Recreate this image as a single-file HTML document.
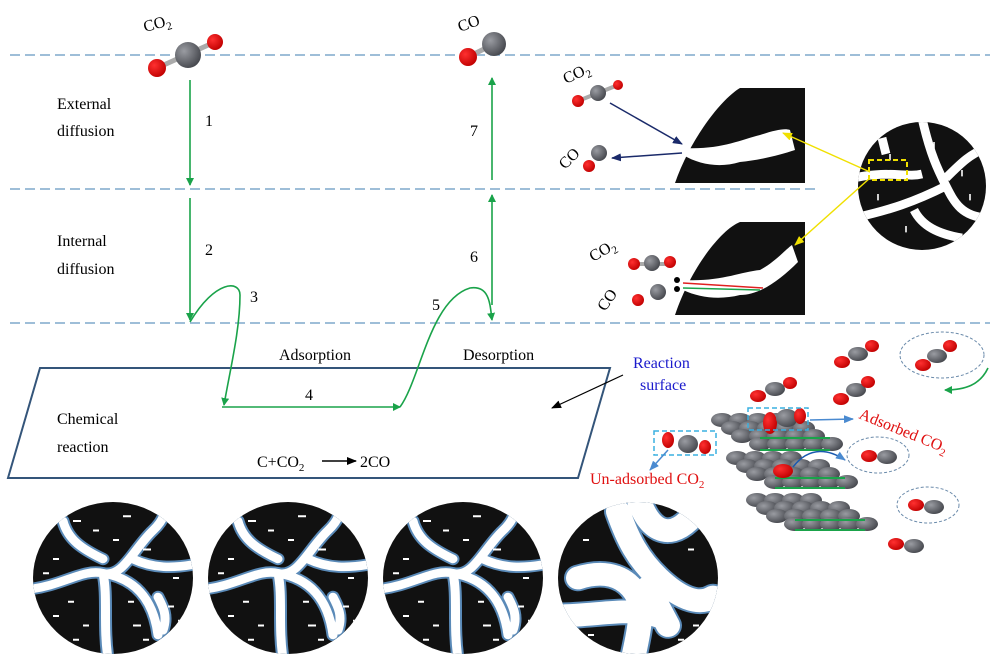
<!DOCTYPE html>
<html><head><meta charset="utf-8"><style>
html,body{margin:0;padding:0;background:#fff;}
svg{display:block;font-family:"Liberation Serif",serif;}
</style></head><body>
<svg width="1000" height="659" viewBox="0 0 1000 659" xmlns="http://www.w3.org/2000/svg">
<defs>
<clipPath id="cc"><circle r="80"/></clipPath>
<marker id="ag" markerWidth="8" markerHeight="8" refX="7" refY="4" orient="auto" markerUnits="userSpaceOnUse"><path d="M0,0 L8,4 L0,8 Z" fill="#1aa34a"/></marker>
<marker id="ab" markerWidth="10" markerHeight="8" refX="9" refY="4" orient="auto" markerUnits="userSpaceOnUse"><path d="M0,0 L10,4 L0,8 Z" fill="#000"/></marker>
<marker id="an" markerWidth="10" markerHeight="8" refX="9" refY="4" orient="auto" markerUnits="userSpaceOnUse"><path d="M0,0 L10,4 L0,8 Z" fill="#1a2a6a"/></marker>
<marker id="ay" markerWidth="10" markerHeight="8" refX="9" refY="4" orient="auto" markerUnits="userSpaceOnUse"><path d="M0,0 L10,4 L0,8 Z" fill="#f0e000"/></marker>
<marker id="al" markerWidth="10" markerHeight="8" refX="9" refY="4" orient="auto" markerUnits="userSpaceOnUse"><path d="M0,0 L10,4 L0,8 Z" fill="#4a8ad0"/></marker>
<radialGradient id="gg" cx="0.35" cy="0.35" r="0.7"><stop offset="0" stop-color="#9a9ca2"/><stop offset="1" stop-color="#45474d"/></radialGradient>
<radialGradient id="rg" cx="0.35" cy="0.35" r="0.7"><stop offset="0" stop-color="#ff3030"/><stop offset="1" stop-color="#c00000"/></radialGradient>
<g id="cr">
<circle r="80" fill="#111"/>
<g clip-path="url(#cc)">
<path id="crk" d="M-85,12 C-50,8 -30,-10 -10,-5 C10,0 20,-30 40,-50 C50,-60 55,-70 50,-85 M-10,-5 C-5,20 -10,50 -5,85 M-10,-5 C20,0 40,20 45,60 M-50,-60 C-45,-40 -30,-30 -10,-20 M20,-20 C40,-10 60,-10 85,-15 M45,20 C50,30 55,40 50,55" stroke="#5a8ab8" stroke-width="13" fill="none" stroke-linecap="round"/>
<path d="M-85,12 C-50,8 -30,-10 -10,-5 C10,0 20,-30 40,-50 C50,-60 55,-70 50,-85 M-10,-5 C-5,20 -10,50 -5,85 M-10,-5 C20,0 40,20 45,60 M-50,-60 C-45,-40 -30,-30 -10,-20 M20,-20 C40,-10 60,-10 85,-15 M45,20 C50,30 55,40 50,55" stroke="#fff" stroke-width="9" fill="none" stroke-linecap="round"/>
<g stroke="#fff" stroke-width="2"><path d="M-40,-60h8M10,-65h8M-60,40h6M30,-30h8M55,30h6M-30,50h6M20,50h8M-60,-20h6M60,0h6M0,-40h6M-20,-50h6M-45,25h6M30,65h6M-40,65h6M65,45h6M-70,-5h6M15,25h6"/></g>
</g>
</g>
</defs>

<g stroke="#7fa8cc" stroke-width="1.5" stroke-dasharray="10,5">
<line x1="10" y1="55" x2="990" y2="55"/>
<line x1="10" y1="189" x2="820" y2="189"/>
<line x1="10" y1="323" x2="990" y2="323"/>
</g>

<g font-size="16" fill="#000">
<text x="57" y="109">External</text><text x="57" y="136">diffusion</text>
<text x="57" y="246">Internal</text><text x="57" y="274">diffusion</text>
<text x="57" y="424">Chemical</text><text x="57" y="452">reaction</text>
<text x="279" y="360">Adsorption</text><text x="463" y="360">Desorption</text>
<text x="205" y="126">1</text><text x="205" y="255">2</text><text x="250" y="302">3</text>
<text x="305" y="400">4</text><text x="432" y="310">5</text><text x="470" y="262">6</text><text x="470" y="136">7</text>
<text x="257" y="467">C+CO<tspan font-size="11" dy="4">2</tspan></text>
<text x="360" y="467">2CO</text>
</g>
<line x1="322" y1="461" x2="356" y2="461" stroke="#000" stroke-width="1.5" marker-end="url(#ab)"/>

<polygon points="40,368 610,368 578,478 8,478" fill="none" stroke="#34557a" stroke-width="2"/>

<g stroke="#1aa34a" stroke-width="1.6" fill="none">
<line x1="190" y1="80" x2="190" y2="185" marker-end="url(#ag)"/>
<line x1="190" y1="198" x2="190" y2="320" marker-end="url(#ag)"/>
<path d="M190,322 C215,280 240,280 240,295 C240,330 230,370 224,405" marker-end="url(#ag)"/>
<line x1="222" y1="407" x2="400" y2="407" marker-end="url(#ag)"/>
<path d="M400,407 C420,380 430,300 470,288 C490,285 490,305 492,320" marker-end="url(#ag)"/>
<line x1="492" y1="305" x2="492" y2="195" marker-end="url(#ag)"/>
<line x1="492" y1="180" x2="492" y2="78" marker-end="url(#ag)"/>
</g>

<text x="145" y="32" font-size="16" transform="rotate(-15 145 32)">CO<tspan font-size="11" dy="4">2</tspan></text>
<line x1="157" y1="68" x2="215" y2="42" stroke="#aaa" stroke-width="5"/>
<circle cx="157" cy="68" r="9" fill="url(#rg)"/><circle cx="215" cy="42" r="8" fill="url(#rg)"/><circle cx="188" cy="55" r="13" fill="url(#gg)"/>
<text x="460" y="32" font-size="16" transform="rotate(-20 460 32)">CO</text>
<line x1="468" y1="57" x2="492" y2="45" stroke="#aaa" stroke-width="5"/>
<circle cx="468" cy="57" r="9" fill="url(#rg)"/><circle cx="494" cy="44" r="12" fill="url(#gg)"/>

<path d="M675,183 C690,140 720,100 740,88 L805,88 L805,183 Z" fill="#111"/>
<path d="M683,148 C720,150 740,140 760,135 C775,130 785,128 790,130 L795,150 C780,155 760,160 740,162 C720,168 700,165 683,155 Z" fill="#fff"/>
<path d="M675,315 C690,270 720,230 740,222 L805,222 L805,315 Z" fill="#111"/>
<path d="M683,280 C720,282 740,272 760,270 C775,262 785,250 792,245 L798,262 C780,280 760,295 740,295 C720,300 700,298 683,290 Z" fill="#fff"/>
<line x1="610" y1="103" x2="682" y2="144" stroke="#1a2a6a" stroke-width="1.5" marker-end="url(#an)"/>
<line x1="682" y1="153" x2="612" y2="158" stroke="#1a2a6a" stroke-width="1.5" marker-end="url(#an)"/>
<path d="M683,283 L763,288" stroke="#e02020" stroke-width="1.5" fill="none"/>
<path d="M683,288 L760,290" stroke="#1aa34a" stroke-width="1.5" fill="none"/>
<circle cx="677" cy="280" r="3" fill="#000"/><circle cx="677" cy="289" r="3" fill="#000"/>
<text x="566" y="84" font-size="16" transform="rotate(-25 566 84)">CO<tspan font-size="11" dy="4">2</tspan></text>
<line x1="578" y1="101" x2="618" y2="85" stroke="#aaa" stroke-width="4"/>
<circle cx="578" cy="101" r="6" fill="url(#rg)"/><circle cx="618" cy="85" r="5" fill="url(#rg)"/><circle cx="598" cy="93" r="8" fill="url(#gg)"/>
<text x="565" y="170" font-size="16" transform="rotate(-45 565 170)">CO</text>
<circle cx="589" cy="166" r="6" fill="url(#rg)"/><circle cx="599" cy="153" r="8" fill="url(#gg)"/>
<text x="593" y="262" font-size="16" transform="rotate(-30 593 262)">CO<tspan font-size="11" dy="4">2</tspan></text>
<line x1="634" y1="264" x2="670" y2="264" stroke="#aaa" stroke-width="4"/>
<circle cx="634" cy="264" r="6" fill="url(#rg)"/><circle cx="670" cy="262" r="6" fill="url(#rg)"/><circle cx="652" cy="263" r="8" fill="url(#gg)"/>
<text x="605" y="312" font-size="16" transform="rotate(-55 605 312)">CO</text>
<circle cx="638" cy="300" r="6" fill="url(#rg)"/><circle cx="658" cy="292" r="8" fill="url(#gg)"/>

<g transform="translate(922,186) scale(0.8)"><circle r="80" fill="#111"/>
<g clip-path="url(#cc)">
<path d="M-85,-10 C-40,-20 -20,-10 0,-15 M0,-85 C10,-40 20,-20 30,0 C40,20 50,40 85,40 M-85,40 C-40,30 -10,20 30,0 M30,-10 C50,-30 60,-40 85,-50 M-10,30 C0,50 20,60 50,65 M-50,-60 L-45,-40" stroke="#fff" stroke-width="11" fill="none"/>
<g stroke="#fff" stroke-width="2"><path d="M-40,-40v8M50,-20v8M-20,50v8M60,10v8M-55,10v8M15,-55v8"/></g>
</g></g>
<rect x="869" y="160" width="38" height="20" fill="none" stroke="#f0e000" stroke-width="2" stroke-dasharray="5,3"/>
<line x1="870" y1="172" x2="783" y2="133" stroke="#f0e000" stroke-width="1.5" marker-end="url(#ay)"/>
<line x1="870" y1="178" x2="795" y2="245" stroke="#f0e000" stroke-width="1.5" marker-end="url(#ay)"/>

<text x="633" y="368" font-size="16" fill="#1a1acc">Reaction</text>
<text x="640" y="390" font-size="16" fill="#1a1acc">surface</text>
<line x1="623" y1="375" x2="552" y2="408" stroke="#000" stroke-width="1.2" marker-end="url(#ab)"/>

<g fill="url(#gg)">
<g id="lay">
<ellipse cx="722" cy="420" rx="11" ry="7"/><ellipse cx="740" cy="420" rx="11" ry="7"/><ellipse cx="758" cy="420" rx="11" ry="7"/><ellipse cx="776" cy="420" rx="11" ry="7"/>
<ellipse cx="732" cy="428" rx="11" ry="7"/><ellipse cx="750" cy="428" rx="11" ry="7"/><ellipse cx="768" cy="428" rx="11" ry="7"/><ellipse cx="786" cy="428" rx="11" ry="7"/><ellipse cx="804" cy="428" rx="11" ry="7"/>
<ellipse cx="742" cy="436" rx="11" ry="7"/><ellipse cx="760" cy="436" rx="11" ry="7"/><ellipse cx="778" cy="436" rx="11" ry="7"/><ellipse cx="796" cy="436" rx="11" ry="7"/><ellipse cx="814" cy="436" rx="11" ry="7"/>
<ellipse cx="760" cy="444" rx="11" ry="7"/><ellipse cx="778" cy="444" rx="11" ry="7"/><ellipse cx="796" cy="444" rx="11" ry="7"/><ellipse cx="814" cy="444" rx="11" ry="7"/><ellipse cx="832" cy="444" rx="11" ry="7"/>
</g>
<use href="#lay" transform="translate(15,38)"/>
<use href="#lay" transform="translate(35,80)"/>
</g>
<g stroke="#1aa34a" stroke-width="2">
<line x1="760" y1="438" x2="830" y2="438"/><line x1="760" y1="450" x2="830" y2="450"/>
<line x1="775" y1="478" x2="845" y2="478"/><line x1="775" y1="488" x2="845" y2="488"/>
<line x1="795" y1="520" x2="865" y2="520"/><line x1="795" y1="530" x2="865" y2="530"/>
</g>
<ellipse cx="770" cy="423" rx="7" ry="11" fill="url(#rg)"/><ellipse cx="787" cy="418" rx="11" ry="9" fill="url(#gg)"/><ellipse cx="800" cy="416" rx="6" ry="8" fill="url(#rg)"/>
<ellipse cx="783" cy="471" rx="10" ry="7" fill="url(#rg)"/>
<rect x="748" y="408" width="60" height="22" fill="none" stroke="#3ab0e0" stroke-width="1.5" stroke-dasharray="5,3"/>
<line x1="810" y1="420" x2="853" y2="419" stroke="#4a8ad0" stroke-width="1.5" marker-end="url(#al)"/>
<text x="858" y="418" font-size="16" fill="#e01010" transform="rotate(22 858 418)">Adsorbed CO<tspan font-size="11" dy="4">2</tspan></text>
<rect x="654" y="431" width="62" height="24" fill="none" stroke="#3ab0e0" stroke-width="1.5" stroke-dasharray="5,3"/>
<ellipse cx="668" cy="440" rx="6" ry="8" fill="url(#rg)"/><ellipse cx="688" cy="444" rx="10" ry="9" fill="url(#gg)"/><ellipse cx="705" cy="447" rx="6" ry="7" fill="url(#rg)"/>
<line x1="668" y1="450" x2="650" y2="470" stroke="#4a8ad0" stroke-width="1.5" marker-end="url(#al)"/>
<text x="590" y="484" font-size="16" fill="#e01010">Un-adsorbed CO<tspan font-size="11" dy="4">2</tspan></text>
<g>
<ellipse cx="758" cy="396" rx="8" ry="6" fill="url(#rg)"/><ellipse cx="775" cy="389" rx="10" ry="7" fill="url(#gg)"/><ellipse cx="790" cy="383" rx="7" ry="6" fill="url(#rg)"/>
<ellipse cx="842" cy="362" rx="8" ry="6" fill="url(#rg)"/><ellipse cx="858" cy="354" rx="10" ry="7" fill="url(#gg)"/><ellipse cx="872" cy="346" rx="7" ry="6" fill="url(#rg)"/>
<ellipse cx="841" cy="399" rx="8" ry="6" fill="url(#rg)"/><ellipse cx="856" cy="390" rx="10" ry="7" fill="url(#gg)"/><ellipse cx="868" cy="382" rx="7" ry="6" fill="url(#rg)"/>
<ellipse cx="942" cy="355" rx="42" ry="23" fill="none" stroke="#6a8aaa" stroke-dasharray="3,2"/>
<ellipse cx="923" cy="365" rx="8" ry="6" fill="url(#rg)"/><ellipse cx="937" cy="356" rx="10" ry="7" fill="url(#gg)"/><ellipse cx="950" cy="346" rx="7" ry="6" fill="url(#rg)"/>
<path d="M988,368 C980,385 965,390 945,390" stroke="#1aa34a" stroke-width="1.6" fill="none" marker-end="url(#ag)"/>
<ellipse cx="878" cy="455" rx="31" ry="18" fill="none" stroke="#6a8aaa" stroke-dasharray="3,2"/>
<ellipse cx="869" cy="456" rx="8" ry="6" fill="url(#rg)"/><ellipse cx="887" cy="457" rx="10" ry="7" fill="url(#gg)"/>
<path d="M793,467 C810,445 830,450 845,460" stroke="#1a5ab0" stroke-width="1.5" fill="none" marker-end="url(#al)"/>
<ellipse cx="928" cy="505" rx="31" ry="18" fill="none" stroke="#6a8aaa" stroke-dasharray="3,2"/>
<ellipse cx="916" cy="505" rx="8" ry="6" fill="url(#rg)"/><ellipse cx="934" cy="507" rx="10" ry="7" fill="url(#gg)"/>
<ellipse cx="896" cy="544" rx="8" ry="6" fill="url(#rg)"/><ellipse cx="914" cy="546" rx="10" ry="7" fill="url(#gg)"/>
</g>

<use href="#cr" transform="translate(113,578) scale(1,0.95)"/>
<use href="#cr" transform="translate(288,578) scale(1,0.95)"/>
<use href="#cr" transform="translate(463,578) scale(1,0.95)"/>
<g transform="translate(638,578) scale(1,0.95)">
<circle r="80" fill="#111"/>
<g clip-path="url(#cc)">
<path d="M-60,0 C-30,-10 -10,0 0,20 C5,40 0,60 -5,85 M-20,-70 C-10,-40 0,-20 20,0 C40,20 60,30 75,20 M0,-85 C10,-50 30,-40 50,-60 M-85,40 C-40,40 -10,30 20,40 M10,10 L30,50" stroke="#5a8ab8" stroke-width="28" fill="none" stroke-linecap="round"/>
<path d="M-60,0 C-30,-10 -10,0 0,20 C5,40 0,60 -5,85 M-20,-70 C-10,-40 0,-20 20,0 C40,20 60,30 75,20 M0,-85 C10,-50 30,-40 50,-60 M-85,40 C-40,40 -10,30 20,40 M10,10 L30,50" stroke="#fff" stroke-width="24" fill="none" stroke-linecap="round"/>
<g stroke="#fff" stroke-width="2"><path d="M-55,-40h6M50,-30h6M55,50h6M-50,60h6M40,65h6"/></g>
</g>
</g>
</svg>
</body></html>
